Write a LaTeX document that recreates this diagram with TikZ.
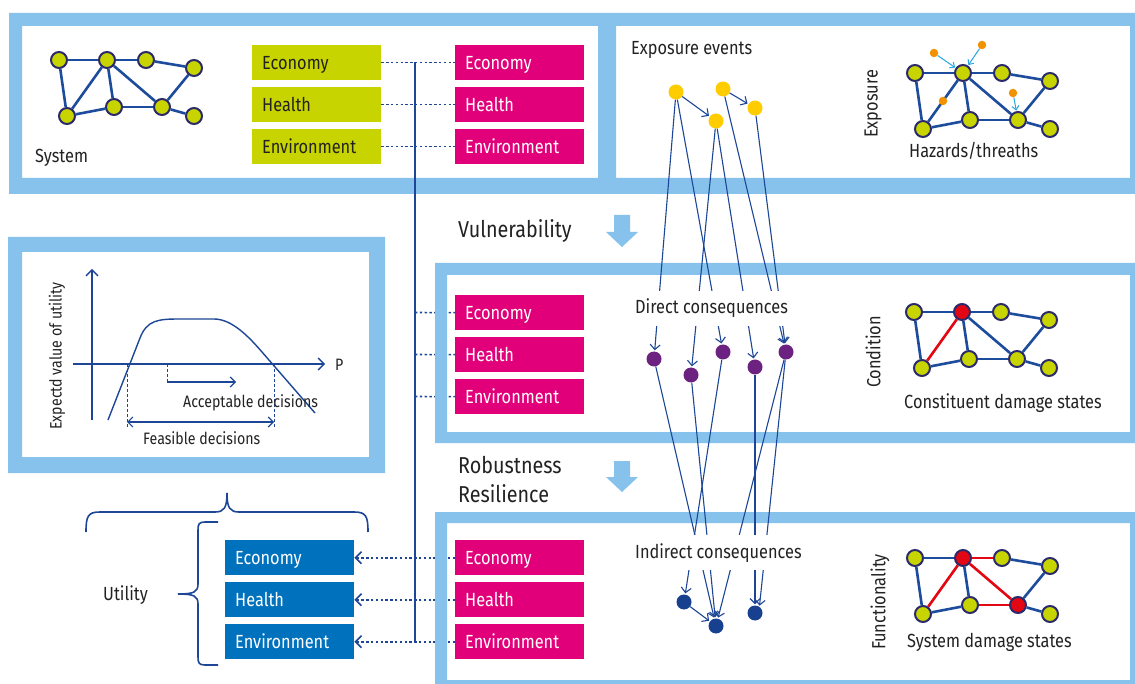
\documentclass[tikz,border=0pt]{standalone}
\usepackage{fontspec}
\setmainfont[FakeStretch=0.86]{Fira Sans}
\usetikzlibrary{arrows.meta}

\definecolor{panelblue}{HTML}{86C2EC}
\definecolor{egreen}{HTML}{C8D400}
\definecolor{emag}{HTML}{E2007A}
\definecolor{ebox}{HTML}{0071BC}
\definecolor{netborder}{HTML}{2B2A6A}
\definecolor{netedge}{HTML}{1D4C9C}
\definecolor{ered}{HTML}{E30613}
\definecolor{eyellow}{HTML}{FFCC00}
\definecolor{eorange}{HTML}{F39200}
\definecolor{ecyan}{HTML}{2AA7E0}
\definecolor{epurple}{HTML}{6B2281}
\definecolor{enavy}{HTML}{17408F}
\definecolor{lineblue}{HTML}{1D4796}
\definecolor{ink}{HTML}{222222}

% eight-node network: prefix, x, y, fill of node b, fill of node g
\newcommand\netnodes[5]{%
  \node[netnode] (#1a) at (#2,#3) {};
  \node[netnode,fill=#4] (#1b) at (#2+48,#3) {};
  \node[netnode] (#1c) at (#2+87,#3) {};
  \node[netnode] (#1d) at (#2+135,#3+8) {};
  \node[netnode] (#1e) at (#2+8,#3+56) {};
  \node[netnode] (#1f) at (#2+55,#3+47) {};
  \node[netnode,fill=#5] (#1g) at (#2+103,#3+47) {};
  \node[netnode] (#1h) at (#2+135,#3+56) {};
}
% edges of a network: prefix, list of from/to/colour
\newcommand\netedges[2]{%
  \foreach \ea/\eb/\ec in {#2} \draw[netline,color=\ec] (#1\ea) -- (#1\eb);
}

\begin{document}
\begin{tikzpicture}[x=1pt,y=-1pt,
  lbl/.style={font=\fontsize{19}{22}\selectfont, text=ink, inner sep=0pt},
  big/.style={font=\fontsize{23}{27}\selectfont, text=ink, inner sep=0pt},
  small/.style={font=\fontsize{16.5}{19}\selectfont, text=ink, inner sep=0pt},
  cbox/.style={anchor=north west, minimum height=35pt, text width=109pt,
    inner xsep=10pt, inner ysep=0pt, align=left, text height=16pt, text depth=3pt,
    font=\fontsize{19}{22}\selectfont},
  gbox/.style={cbox, fill=egreen, text=ink},
  mbox/.style={cbox, fill=emag, text=white},
  bbox/.style={cbox, fill=ebox, text=white},
  netnode/.style={circle, draw=netborder, line width=2pt, fill=egreen, minimum size=16pt, inner sep=0pt},
  netline/.style={line width=2.6pt},
  ydot/.style={circle, fill=eyellow, minimum size=15pt, inner sep=0pt},
  pdot/.style={circle, fill=epurple, minimum size=15pt, inner sep=0pt},
  ndot/.style={circle, fill=enavy, minimum size=15pt, inner sep=0pt},
  odot/.style={circle, fill=eorange, minimum size=8.5pt, inner sep=0pt},
  conn/.style={draw=lineblue, line width=1.1pt, -{Straight Barb[length=5pt,width=10pt]}, shorten >=1pt},
  cyanarr/.style={draw=ecyan, line width=1pt, -{Straight Barb[length=4pt,width=7pt]}, shorten >=0.5pt},
  dotl/.style={draw=lineblue, line width=1.6pt, dash pattern=on 2.4pt off 2.4pt},
  chartl/.style={draw=lineblue, line width=1.4pt},
  braceline/.style={draw=lineblue, line width=1.6pt},
  cut/.style={fill=white, inner xsep=0pt, inner ysep=8pt}
]
\useasboundingbox (0,0) rectangle (1135,684);
\fill[white] (0,0) rectangle (1135,684);

% ---------- value boxes ----------
\node[gbox] (g1) at (252,45) {Economy};
\node[gbox] (g2) at (252,87) {Health};
\node[gbox] (g3) at (252,129) {Environment};
\node[mbox] (m1) at (455,45) {Economy};
\node[mbox] (m2) at (455,87) {Health};
\node[mbox] (m3) at (455,129) {Environment};
\node[mbox] (m4) at (455,295) {Economy};
\node[mbox] (m5) at (455,337) {Health};
\node[mbox] (m6) at (455,379) {Environment};
\node[mbox] (m7) at (455,540) {Economy};
\node[mbox] (m8) at (455,582) {Health};
\node[mbox] (m9) at (455,624) {Environment};
\node[bbox] (b1) at (225,540) {Economy};
\node[bbox] (b2) at (225,582) {Health};
\node[bbox] (b3) at (225,624) {Environment};

% ---------- dotted links ----------
\coordinate (vtop) at (415,62.5);
\coordinate (vbot) at (415,641.5);
\coordinate (j4) at (415,312.5);
\coordinate (j5) at (415,354.5);
\coordinate (j6) at (415,396.5);
\draw[dotl] (g1.east) -- (m1.west);
\draw[dotl] (g2.east) -- (m2.west);
\draw[dotl] (g3.east) -- (m3.west);
\draw[dotl] (j4) -- (m4.west);
\draw[dotl] (j5) -- (m5.west);
\draw[dotl] (j6) -- (m6.west);
\draw[dotl, -{Straight Barb[length=6pt,width=12pt]}] (m7.west) -- (b1.east);
\draw[dotl, -{Straight Barb[length=6pt,width=12pt]}] (m8.west) -- (b2.east);
\draw[dotl, -{Straight Barb[length=6pt,width=12pt]}] (m9.west) -- (b3.east);

% ---------- panel frames ----------
\fill[panelblue, even odd rule] (9,13) rectangle (1140,194)
  (22,26) rectangle (598,178) (616,26) rectangle (1130,178);
\fill[panelblue, even odd rule] (8,237) rectangle (385,473) (22,252) rectangle (369,457);
\fill[panelblue, even odd rule] (435,263) rectangle (1140,443) (447,275) rectangle (1130,432);
\fill[panelblue, even odd rule] (435,512) rectangle (1140,695) (447,523) rectangle (1130,680);

% down arrows between stages
\fill[panelblue] (614,215) -- (630,215) -- (630,232) -- (638,232) -- (622,247) -- (606,232) -- (614,232) -- cycle;
\fill[panelblue] (614,461) -- (630,461) -- (630,477) -- (638,477) -- (622,492) -- (606,477) -- (614,477) -- cycle;

% trunk line of the value links
\draw[draw=lineblue, line width=1.5pt] (vtop) -- (vbot);

% ---------- networks ----------
\netnodes{s}{59}{60}{egreen}{egreen}
\netedges{s}{a/b/netedge,b/c/netedge,c/d/netedge,a/e/netedge,b/e/netedge,b/f/netedge,b/g/netedge,e/f/netedge,f/g/netedge,g/d/netedge,g/h/netedge}

\netnodes{x}{915}{73}{egreen}{egreen}
\netedges{x}{a/b/netedge,b/c/netedge,c/d/netedge,a/e/netedge,b/e/netedge,b/f/netedge,b/g/netedge,e/f/netedge,f/g/netedge,g/d/netedge,g/h/netedge}

\netnodes{c}{914}{312}{ered}{egreen}
\netedges{c}{a/b/netedge,b/c/netedge,c/d/netedge,a/e/netedge,b/e/ered,b/f/netedge,b/g/netedge,e/f/netedge,f/g/netedge,g/d/netedge,g/h/netedge}

\netnodes{f}{915}{558}{ered}{ered}
\netedges{f}{a/b/netedge,b/c/ered,c/d/netedge,a/e/netedge,b/e/ered,b/f/netedge,b/g/ered,e/f/netedge,f/g/ered,g/d/netedge,g/h/netedge}

% hazards hitting the network
\node[odot] (o1) at (934,53) {};
\node[odot] (o2) at (982,45) {};
\node[odot] (o3) at (943,101) {};
\node[odot] (o4) at (1013,93) {};
\draw[cyanarr] (o1) -- (xb);
\draw[cyanarr] (o2) -- (xb);
\draw[cyanarr] (o4) -- (xg);

% ---------- event chains ----------
\node[ydot] (y1) at (676,92) {};
\node[ydot] (y2) at (723,89) {};
\node[ydot] (y3) at (716,121) {};
\node[ydot] (y4) at (755,108) {};
\node[pdot] (p1) at (654,359) {};
\node[pdot] (p2) at (691,375) {};
\node[pdot] (p3) at (723,352) {};
\node[pdot] (p4) at (755,367) {};
\node[pdot] (p5) at (786,352) {};
\node[ndot] (n1) at (684,602) {};
\node[ndot] (n2) at (716,626) {};
\node[ndot] (n3) at (755,613) {};

\draw[conn] (y1) -- (y3);
\draw[conn] (y2) -- (y4);
\draw[conn] (y1) -- (p1);
\draw[conn] (y1) -- (p3);
\draw[conn] (y3) -- (p2);
\draw[conn] (y3) -- (p4);
\draw[conn] (y2) -- (p5);
\draw[conn] (y4) -- (p5);
\draw[conn] (p1) -- (n2);
\draw[conn] (p2) -- (n2);
\draw[conn] (p3) -- (n1);
\draw[conn] (p4) -- (n3);
\draw[conn] (p5) -- (n2);
\draw[conn] (p5) -- (n3.55);
\draw[conn] (n1) -- (n2);

% ---------- labels ----------
\node[lbl, anchor=base west] (tsys) at (35,163) {System};
\node[lbl, anchor=base west] (texp) at (631,55) {Exposure events};
\node[big, anchor=base west] (tvul) at (458,238) {Vulnerability};
\node[big, anchor=base west] (trob) at (458,473) {Robustness};
\node[big, anchor=base west] (tres) at (458,502) {Resilience};
\node[lbl, cut, anchor=base west] (tdir) at (635,314) {Direct consequences};
\node[lbl, cut, anchor=base west] (tind) at (635,558) {Indirect consequences};
\node[lbl, rotate=90] (texpo) at (873,104) {Exposure};
\node[lbl, rotate=90] (tcond) at (873,352) {Condition};
\node[lbl, rotate=90] (tfunc) at (880,602) {Functionality};
\node[lbl, anchor=base west] (thaz) at (909,158) {Hazards/threaths};
\node[lbl, anchor=base west] (tcon) at (904,409) {Constituent damage states};
\node[lbl, anchor=base west] (tsds) at (907,647) {System damage states};
\node[lbl, anchor=base west] (tutil) at (103,600) {Utility};

% ---------- utility chart ----------
\draw[chartl, -{Straight Barb[length=6pt,width=12pt]}] (92,420) -- (92,269);
\draw[chartl, -{Straight Barb[length=6pt,width=12pt]}] (73,364) -- (325,364);
\draw[chartl] (108,420) -- (140,338) .. controls (147,320) and (158,319) .. (180,319)
  -- (214,319) .. controls (232,319) and (249,337) .. (262,352) -- (315,413);
\draw[chartl, line width=1pt, dash pattern=on 3pt off 2pt] (127,364) -- (127,428);
\draw[chartl, line width=1pt, dash pattern=on 3pt off 2pt] (274,364) -- (274,428);
\draw[chartl, line width=1pt, dash pattern=on 3pt off 2pt] (167,364) -- (167,382);
\draw[chartl, line width=1.2pt, {Straight Barb[length=5pt,width=10pt]}-{Straight Barb[length=5pt,width=10pt]}] (127,422) -- (274,422);
\draw[chartl, line width=1.2pt, -{Straight Barb[length=5pt,width=10pt]}] (167,382) -- (236,382);
\node[small, rotate=90] (tev) at (57,356) {Expectd value of utility};
\node[small, anchor=base west] (tp) at (335,371) {P};
\node[small, anchor=base west] (tacc) at (183,407) {Acceptable decisions};
\node[small, anchor=base west] (tfeas) at (143,444) {Feasible decisions};

% ---------- braces ----------
\draw[braceline] (86,532) .. controls (86,516) and (88,512) .. (100,512) -- (215,512)
  .. controls (224,512) and (227,508) .. (227,493) .. controls (227,508) and (230,512) .. (239,512)
  -- (354,512) .. controls (366,512) and (368,516) .. (368,532);
\draw[braceline] (218,522) -- (205,522) .. controls (199,522) and (198,524) .. (198,530)
  -- (198,584) .. controls (198,592) and (194,594) .. (178,594)
  .. controls (194,594) and (198,596) .. (198,604) -- (198,657)
  .. controls (198,663) and (199,665) .. (205,665) -- (218,665);
\end{tikzpicture}
\end{document}
